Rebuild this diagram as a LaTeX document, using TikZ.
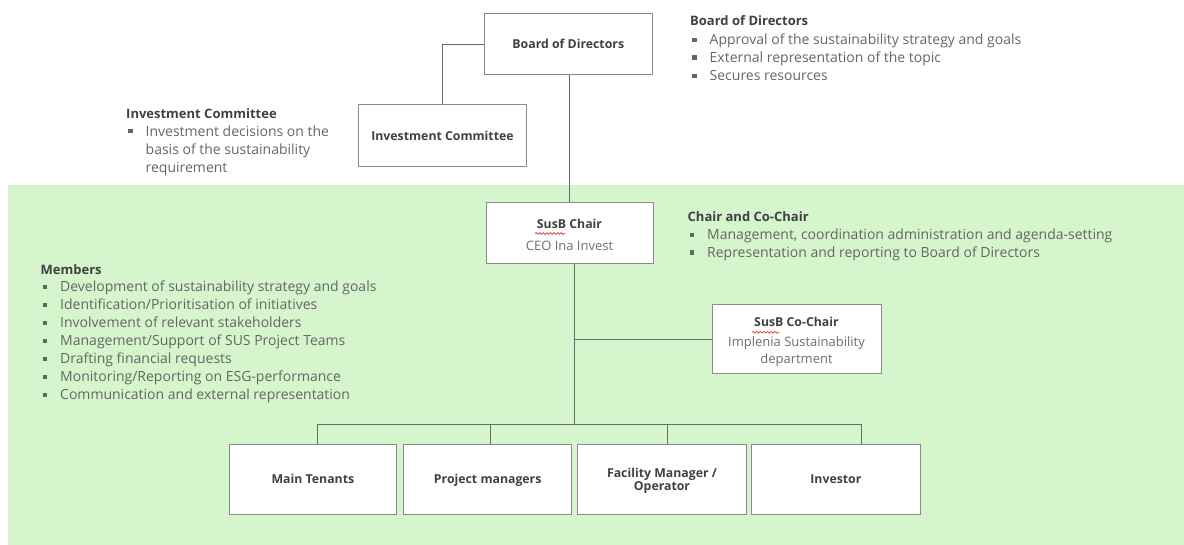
\documentclass[tikz,border=0pt]{standalone}
\usepackage{fontspec}
\setmainfont{Open Sans}
\usetikzlibrary{calc,decorations.pathmorphing}
\definecolor{bggreen}{HTML}{D5F5CD}
\definecolor{txtgray}{HTML}{656565}
\definecolor{subgray}{HTML}{6E6E6E}
\definecolor{headgray}{HTML}{404040}
\definecolor{linegray}{HTML}{6A6A6A}
\definecolor{boxgray}{HTML}{8A8A8A}
\definecolor{squigred}{HTML}{E03838}
% text set on a baseline placed relative to the node centre
\newcommand\btxt[2]{\raisebox{#1}[0pt][0pt]{\begin{tabular}[t]{@{}c@{}}#2\end{tabular}}}
\newcommand\ntxt[1]{\raisebox{0pt}[0pt][0pt]{\begin{tabular}[t]{@{}l@{}}#1\end{tabular}}}
\newcommand\sqbul{\textcolor{txtgray}{\rule[3pt]{4.4pt}{4.4pt}}}
\newcommand\bitem[1]{\makebox[19.5pt][l]{\hspace{2pt}\sqbul}#1}
\newcommand\bcont[1]{\hspace*{19.5pt}#1}
\newcommand\nhead[1]{{\color{headgray}\fontsize{13}{18}\selectfont\bfseries #1}}
\newcommand\subt[1]{{\mdseries\color{subgray}\fontsize{13}{18}\selectfont #1}}
\begin{document}
\begin{tikzpicture}[x=1pt,y=-1pt,
  orgbox/.style={draw=boxgray,line width=1pt,fill=white,minimum width=168pt,
    minimum height=61pt,inner sep=0pt,
    font=\fontsize{12.3}{18}\selectfont\bfseries,text=headgray},
  notes/.style={anchor=west,inner sep=0pt,text=txtgray,
    font=\fontsize{14}{18}\selectfont},
  conn/.style={draw=linegray,line width=0.9pt},
  squig/.style={draw=squigred,line width=0.7pt,decorate,
    decoration={snake,amplitude=0.9pt,segment length=3.6pt}}]
\useasboundingbox (0,0) rectangle (1184,545);
\fill[bggreen] (8,185) rectangle (1184,545);
% boxes
\node[orgbox] (bod) at (568.3,44.5) {\btxt{-4.4pt}{Board of Directors}};
\node[orgbox,minimum height=62pt] (ic) at (442.5,135.8) {\btxt{-4.4pt}{Investment Committee}};
\node[orgbox,minimum width=167pt] (chair) at (569.5,233.5)
  {\fontsize{12.3}{21.6}\selectfont\btxt{4.8pt}{SusB Chair\\\subt{CEO Ina Invest}}};
\node[orgbox,minimum width=169pt,minimum height=69pt] (cochair) at (796.5,339.5)
  {\fontsize{12.3}{16.5}\selectfont\btxt{12.5pt}{SusB Co-Chair\\[3.5pt]\subt{Implenia Sustainability}\\\subt{department}}};
\node[orgbox,minimum width=167.7pt,minimum height=70pt] (mt) at (312.9,479.2) {\btxt{-4.6pt}{Main Tenants}};
\node[orgbox,minimum width=168pt,minimum height=70pt] (pm) at (487.7,479.2) {\btxt{-4.6pt}{Project managers}};
\node[orgbox,minimum width=169.4pt,minimum height=70pt] (fm) at (662,479.2)
  {\fontsize{12.3}{13}\selectfont\btxt{2.2pt}{Facility Manager /\\Operator}};
\node[orgbox,minimum width=168.3pt,minimum height=70pt] (inv) at (835.9,479.2) {\btxt{-4.6pt}{Investor}};
% spell-check squiggles
\draw[squig] ($(chair.center)+(-34.5,0)$) -- ++(30,0);
\draw[squig] ($(cochair.center)+(-44.5,-7.2)$) -- ++(27,0);
% connectors
\draw[conn] (bod.west) -| (ic.north);
\draw[conn] (bod.south -| chair.north) -- (chair.north);
\coordinate (chb) at ([xshift=4.5pt]chair.south);
\coordinate (busc) at ($(chb)+(0,160.3)$);
\draw[conn] (chb) -- (busc);
\draw[conn] (cochair.west) -- (cochair.west -| chb);
\draw[conn] ([xshift=4.4pt]mt.north) -- ++(0,-19.7) -| ([xshift=25.1pt]inv.north);
\draw[conn] ([xshift=2.6pt]pm.north) -- ++(0,-19.7);
\draw[conn] ([xshift=5pt]fm.north) -- ++(0,-19.7);
% notes (each placed at the baseline of its first line)
\node[notes] (nbod) at (690,26) {\ntxt{\nhead{Board of Directors}\\[1pt]
  \bitem{Approval of the sustainability strategy and goals}\\[-0.3pt]
  \bitem{External representation of the topic}\\[0.3pt]
  \bitem{Secures resources}}};
\node[notes] (nic) at (126,118.3) {\ntxt{\nhead{Investment Committee}\\[0.2pt]
  \bitem{Investment decisions on the}\\
  \bcont{basis of the sustainability}\\
  \bcont{requirement}}};
\node[notes] (nchair) at (687.5,221.7) {\ntxt{\nhead{Chair and Co-Chair}\\[0.3pt]
  \bitem{Management, coordination administration and agenda-setting}\\[-0.3pt]
  \bitem{Representation and reporting to Board of Directors}}};
\node[notes] (nmem) at (40.5,274.3) {\ntxt{\nhead{Members}\\[-0.3pt]
  \bitem{Development of sustainability strategy and goals}\\
  \bitem{Identification/Prioritisation of initiatives}\\
  \bitem{Involvement of relevant stakeholders}\\
  \bitem{Management/Support of SUS Project Teams}\\
  \bitem{Drafting financial requests}\\
  \bitem{Monitoring/Reporting on ESG-performance}\\
  \bitem{Communication and external representation}}};
\end{tikzpicture}
\end{document}
